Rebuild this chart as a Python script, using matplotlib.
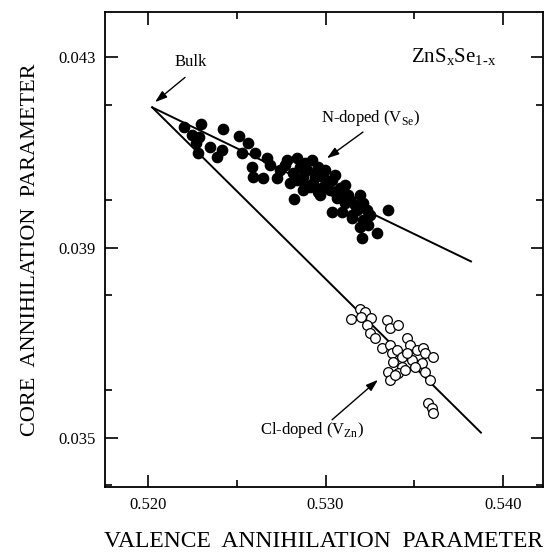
import numpy as np
import matplotlib
matplotlib.use("Agg")
import matplotlib.pyplot as plt
from matplotlib.ticker import MultipleLocator, FormatStrFormatter

plt.rcParams['font.family'] = ['Liberation Serif', 'DejaVu Serif']
plt.rcParams['mathtext.fontset'] = 'custom'
plt.rcParams['mathtext.rm'] = 'Liberation Serif'

# N-doped samples (filled)
n_valence = [0.52203, 0.52299, 0.52423, 0.52248, 0.52287, 0.52270, 0.52282, 0.52349,
             0.52417, 0.52389, 0.52513, 0.52563, 0.52530, 0.52603, 0.52586, 0.52592,
             0.52648, 0.52670, 0.52687, 0.52727, 0.52772, 0.52839, 0.52924, 0.52958,
             0.52817, 0.52800, 0.52823, 0.52873, 0.52913, 0.52969, 0.52986, 0.53037,
             0.53025, 0.53082, 0.53093, 0.53037, 0.53093, 0.53149, 0.53194, 0.53211,
             0.53166, 0.53149, 0.53211, 0.53251, 0.53194, 0.53239, 0.53290, 0.53206,
             0.53352, 0.52873, 0.52930, 0.52986, 0.52856, 0.52896, 0.52952, 0.53008,
             0.53065, 0.53110, 0.53127, 0.53177, 0.53234, 0.52783, 0.52885, 0.52941,
             0.53054, 0.52997, 0.52744, 0.52885, 0.52958, 0.52839, 0.53054, 0.53138,
             0.53110]
n_core = [0.04153, 0.04161, 0.04149, 0.04136, 0.04132, 0.04119, 0.04100, 0.04111,
          0.04105, 0.04090, 0.04134, 0.04121, 0.04098, 0.04100, 0.04069, 0.04048,
          0.04046, 0.04088, 0.04073, 0.04046, 0.04073, 0.04088, 0.04084, 0.04069,
          0.04058, 0.04035, 0.04002, 0.04048, 0.04027, 0.04010, 0.04048, 0.04042,
          0.04021, 0.04025, 0.04006, 0.03974, 0.03974, 0.03968, 0.04010, 0.03993,
          0.03989, 0.03962, 0.03958, 0.03968, 0.03943, 0.03947, 0.03930, 0.03920,
          0.03979, 0.04021, 0.04035, 0.04027, 0.04069, 0.04063, 0.04058, 0.04037,
          0.04004, 0.03993, 0.04010, 0.03979, 0.03979, 0.04084, 0.04079, 0.04048,
          0.04016, 0.04063, 0.04063, 0.04031, 0.04017, 0.04042, 0.04052, 0.04000,
          0.04031]

# Cl-doped samples (open)
cl_valence = [0.53194, 0.53223, 0.53144, 0.53200, 0.53256, 0.53346, 0.53363, 0.53408,
              0.53234, 0.53251, 0.53279, 0.53318, 0.53363, 0.53375, 0.53403, 0.53459,
              0.53476, 0.53515, 0.53549, 0.53561, 0.53606, 0.53431, 0.53487, 0.53544,
              0.53380, 0.53431, 0.53561, 0.53352, 0.53408, 0.53448, 0.53363, 0.53589,
              0.53577, 0.53600, 0.53606, 0.53392, 0.53459, 0.53504]
cl_core = [0.03771, 0.03764, 0.03750, 0.03754, 0.03752, 0.03747, 0.03731, 0.03737,
           0.03737, 0.03720, 0.03710, 0.03689, 0.03695, 0.03678, 0.03684, 0.03710,
           0.03695, 0.03684, 0.03689, 0.03678, 0.03670, 0.03670, 0.03663, 0.03657,
           0.03659, 0.03649, 0.03638, 0.03638, 0.03636, 0.03642, 0.03621, 0.03621,
           0.03573, 0.03563, 0.03552, 0.03632, 0.03678, 0.03649]

# guide lines from bulk value
bulk = (0.52023, 0.04195)
n_line_end = (0.53820, 0.03871)
cl_line_end = (0.53876, 0.03511)

fig = plt.figure(figsize=(5.45, 5.57), dpi=100)
ax = fig.add_axes([0.193, 0.126, 0.803, 0.852])

ax.plot([bulk[0], n_line_end[0]], [bulk[1], n_line_end[1]], color='black', lw=1.4)
ax.plot([bulk[0], cl_line_end[0]], [bulk[1], cl_line_end[1]], color='black', lw=1.4)
ax.plot(n_valence, n_core, 'o', color='black', markersize=7.4, zorder=3)
ax.plot(cl_valence, cl_core, 'o', markerfacecolor='white', markeredgecolor='black',
        markersize=7, markeredgewidth=0.9, zorder=3)

ax.set_xlim(0.51758, 0.54225)
ax.set_ylim(0.03397, 0.04395)
ax.set_xticks([0.520, 0.530, 0.540])
ax.set_yticks([0.035, 0.039, 0.043])
ax.xaxis.set_major_formatter(FormatStrFormatter('%.3f'))
ax.yaxis.set_major_formatter(FormatStrFormatter('%.3f'))
ax.xaxis.set_minor_locator(MultipleLocator(0.005))
ax.yaxis.set_minor_locator(MultipleLocator(0.002))
ax.tick_params(which='both', direction='in', top=True, right=True, width=1.2,
               labelsize=12, pad=7)
ax.tick_params(which='major', length=9)
ax.tick_params(which='minor', length=5)
for s in ax.spines.values():
    s.set_linewidth(1.3)

ax.set_xlabel('VALENCE  ANNIHILATION  PARAMETER', fontsize=17, labelpad=13)
ax.set_ylabel('CORE  ANNIHILATION  PARAMETER', fontsize=16, labelpad=13)

arrow = dict(arrowstyle='-|>,head_length=0.6,head_width=0.2', color='black', lw=1.0,
             shrinkA=0, shrinkB=0, mutation_scale=12)

ax.text(0.52242, 0.04290, 'Bulk', fontsize=12, ha='center', va='center')
ax.annotate('', xy=(0.52039, 0.04206), xytext=(0.52208, 0.04258), arrowprops=arrow)

ax.text(0.53256, 0.04172, r'N-doped (V$_{\mathrm{Se}}$)', fontsize=12,
        ha='center', va='center')
ax.annotate('', xy=(0.53008, 0.04088), xytext=(0.53211, 0.04143), arrowprops=arrow)

ax.text(0.52924, 0.03517, r'Cl-doped (V$_{\mathrm{Zn}}$)', fontsize=12,
        ha='center', va='center')
ax.annotate('', xy=(0.53296, 0.03622), xytext=(0.53037, 0.03538), arrowprops=arrow)

ax.text(0.53720, 0.04300, r'ZnS$_{\mathrm{x}}$Se$_{\mathrm{1\text{-}x}}$', fontsize=15,
        ha='center', va='center')

fig.savefig('out.png', dpi=100)
